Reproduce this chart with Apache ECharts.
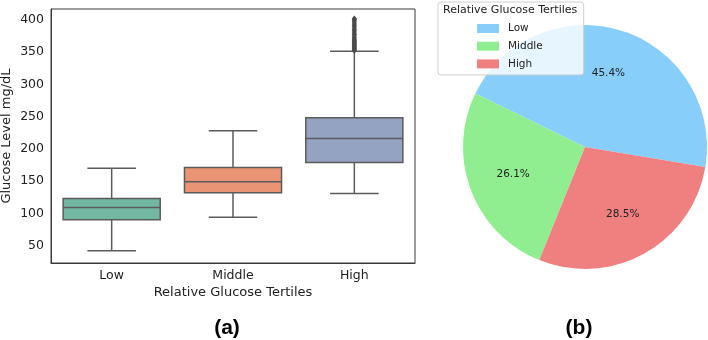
<!DOCTYPE html>
<html>
<head>
<meta charset="utf-8">
<script src="https://cdn.jsdelivr.net/npm/echarts@6/dist/echarts.min.js"></script>
<style>
  html, body { margin: 0; padding: 0; background: #fff; }
  #chart { width: 708px; height: 340px; }
</style>
</head>
<body>
<div id="chart"></div>
<script>
// tertile names
var tertiles = ['Low', 'Middle', 'High'];
// box stats per tertile: lower whisker, Q1, median, Q3, upper whisker
var lowWhisker = [42, 94, 131];
var q1Vals = [90, 132, 179];
var medianVals = [109, 149, 216];
var q3Vals = [123, 171, 248];
var highWhisker = [170, 228, 351];
// fliers above the High whisker
var highOutliers = [352, 353, 354, 355, 356, 357, 358, 359, 360, 361, 362, 363, 364, 365, 366, 367, 368, 369,
  370, 372, 373, 375, 377, 378, 380, 382, 384, 385, 387, 389, 391, 393, 395, 397, 399, 400, 401, 402];
// pie shares (%)
var pieShares = [45.4, 26.1, 28.5];

var boxColors = ['#71b7a1', '#e99575', '#95a3c3'];
var pieColors = ['#87cefa', '#90ee90', '#f08080'];
var lineColor = '#5b5b5b';
var font = 'DejaVu Sans';

var boxData = tertiles.map(function (t, i) {
  return [i, lowWhisker[i], q1Vals[i], medianVals[i], q3Vals[i], highWhisker[i]];
});
var outlierData = highOutliers.map(function (v) { return [2, v]; });
var pieData = tertiles.map(function (t, i) {
  return { name: t, value: pieShares[i], itemStyle: { color: pieColors[i] } };
});
var pieLabelData = tertiles.map(function (t, i) {
  return { name: t, value: pieShares[i] };
});

var myChart = echarts.init(document.getElementById('chart'));
var option = {
  animation: false,
  textStyle: { fontFamily: font },
  title: {
    text: 'Relative Glucose Tertiles',
    left: 443, top: 5,
    padding: 0,
    textStyle: { fontFamily: font, fontSize: 11, fontWeight: 'normal', color: '#222' },
    z: 10
  },
  graphic: [
    { type: 'text', x: 227, y: 328, z: 10,
      style: { text: '(a)', fontFamily: 'Liberation Sans', fontWeight: 'bold', fontSize: 21,
        fill: '#000', align: 'center', verticalAlign: 'middle' } },
    { type: 'text', x: 579, y: 328, z: 10,
      style: { text: '(b)', fontFamily: 'Liberation Sans', fontWeight: 'bold', fontSize: 21,
        fill: '#000', align: 'center', verticalAlign: 'middle' } }
  ],
  legend: {
    data: tertiles,
    orient: 'vertical',
    left: 438, top: 2,
    padding: [20.5, 41, 5, 39],
    itemWidth: 22, itemHeight: 9,
    itemGap: 5.7,
    icon: 'rect',
    selectedMode: false,
    backgroundColor: 'rgba(255,255,255,0.8)',
    borderColor: '#d0d0d0',
    borderWidth: 1,
    borderRadius: 3,
    textStyle: { fontFamily: font, fontSize: 10.5, lineHeight: 12, color: '#222', padding: [0, 0, 0, 4] },
    z: 8
  },
  grid: {
    left: 51, top: 9, right: 293, bottom: 77,
    outerBoundsMode: 'none',
    containLabel: false,
    show: true, borderColor: '#3a3a3a', borderWidth: 1
  },
  xAxis: {
    type: 'category',
    data: tertiles,
    boundaryGap: true,
    name: 'Relative Glucose Tertiles',
    nameLocation: 'middle',
    nameGap: 23,
    nameMoveOverlap: false,
    nameTextStyle: { fontFamily: font, fontSize: 13, color: '#222' },
    axisLine: { lineStyle: { color: '#3a3a3a' } },
    axisTick: { alignWithLabel: true, length: 3, lineStyle: { color: '#3a3a3a' } },
    axisLabel: { fontFamily: font, fontSize: 12.5, color: '#222', margin: 6 },
    splitLine: { show: false }
  },
  yAxis: {
    type: 'value',
    min: 23.2, max: 416.6,
    splitNumber: 8,
    name: 'Glucose Level mg/dL',
    nameLocation: 'middle',
    nameRotate: 90,
    nameGap: 38,
    nameMoveOverlap: false,
    nameTextStyle: { fontFamily: font, fontSize: 13, color: '#222' },
    axisLine: { show: true, lineStyle: { color: '#3a3a3a' } },
    axisTick: { show: false },
    axisLabel: {
      fontFamily: font, fontSize: 12.5, color: '#222', margin: 7,
      showMinLabel: false, showMaxLabel: false,
      formatter: function (v) { return v % 50 === 0 ? String(v) : ''; }
    },
    splitLine: { show: false }
  },
  series: [
    {
      type: 'custom',
      data: boxData,
      encode: { x: 0, y: [1, 2, 3, 4, 5] },
      renderItem: function (params, api) {
        var i = api.value(0);
        var lo = api.coord([i, api.value(1)]);
        var q1 = api.coord([i, api.value(2)]);
        var med = api.coord([i, api.value(3)]);
        var q3 = api.coord([i, api.value(4)]);
        var hi = api.coord([i, api.value(5)]);
        var band = api.size([1, 0])[0];
        var half = band * 0.4, cap = band * 0.2;
        var cx = lo[0];
        var ls = { stroke: lineColor, lineWidth: 1.5, fill: null };
        return {
          type: 'group',
          children: [
            { type: 'line', shape: { x1: cx, y1: lo[1], x2: cx, y2: q1[1] }, style: ls },
            { type: 'line', shape: { x1: cx, y1: q3[1], x2: cx, y2: hi[1] }, style: ls },
            { type: 'line', shape: { x1: cx - cap, y1: lo[1], x2: cx + cap, y2: lo[1] }, style: ls },
            { type: 'line', shape: { x1: cx - cap, y1: hi[1], x2: cx + cap, y2: hi[1] }, style: ls },
            { type: 'rect', shape: { x: cx - half, y: q3[1], width: half * 2, height: q1[1] - q3[1] },
              style: { fill: boxColors[params.dataIndex], stroke: lineColor, lineWidth: 1.5 } },
            { type: 'line', shape: { x1: cx - half, y1: med[1], x2: cx + half, y2: med[1] }, style: ls }
          ]
        };
      }
    },
    {
      type: 'scatter',
      data: outlierData,
      symbol: 'diamond',
      symbolSize: [5, 6],
      itemStyle: { color: '#4a4a4a', opacity: 0.9 }
    },
    {
      type: 'pie',
      center: [585, 147],
      radius: [0, 122],
      startAngle: -9.4,
      clockwise: false,
      data: pieData,
      label: { show: false },
      labelLine: { show: false },
      silent: true,
      z: 2
    },
    {
      type: 'pie',
      center: [585, 147],
      radius: [26, 122],
      startAngle: -9.4,
      clockwise: false,
      data: pieLabelData,
      itemStyle: { color: 'rgba(0,0,0,0)' },
      label: {
        show: true, position: 'inside',
        formatter: function (p) { return p.value.toFixed(1) + '%'; },
        fontFamily: font, fontSize: 10.5, color: '#222'
      },
      labelLine: { show: false },
      silent: true,
      z: 3
    }
  ]
};
myChart.setOption(option);
</script>
</body>
</html>
